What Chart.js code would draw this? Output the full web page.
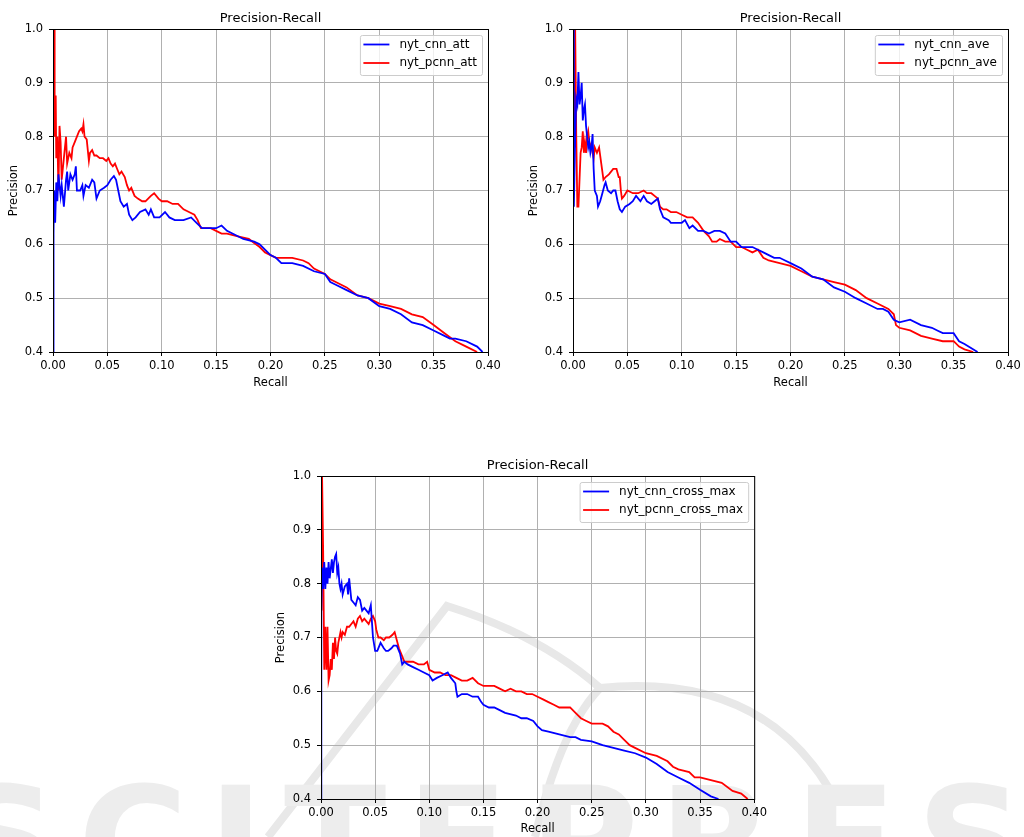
<!DOCTYPE html>
<html>
<head>
<meta charset="utf-8">
<title>Precision-Recall</title>
<script src="https://cdn.jsdelivr.net/npm/chart.js@4.4.0/dist/chart.umd.min.js"></script>
<style>
  html, body { margin: 0; padding: 0; background: #fff; }
  body { width: 1024px; height: 837px; position: relative; overflow: hidden; }
  canvas { position: absolute; }
  .wm { position: absolute; left: -50px; top: 767px; font: bold 150px/150px "DejaVu Sans", sans-serif;
        color: #ededed; letter-spacing: 20px; white-space: nowrap; }
  svg.logo { position: absolute; left: 0; top: 0; }
</style>
</head>
<body>
<!-- faint watermark behind the figure -->
<svg class="logo" width="1024" height="837">
  <path d="M 268 837 L 447 606 Q 540 635 600 688 Q 760 672 830 790" fill="none" stroke="#e8e8e8" stroke-width="8"/>
  <path d="M 600 688 Q 560 730 535 837" fill="none" stroke="#e8e8e8" stroke-width="8"/>
</svg>
<div class="wm">SCITEPRESS</div>

<canvas id="chartAtt" style="left:0px;top:0px" width="512" height="400"></canvas>
<canvas id="chartAve" style="left:512px;top:0px" width="512" height="400"></canvas>
<canvas id="chartCross" style="left:270px;top:440px" width="500" height="397"></canvas>

<script>
// ---- axes / text ----
const recallTicks = [0, 0.05, 0.1, 0.15, 0.2, 0.25, 0.3, 0.35, 0.4];
const precisionTicks = [0.4, 0.5, 0.6, 0.7, 0.8, 0.9, 1.0];
const chartTitle = "Precision-Recall";
const xLabel = "Recall";
const yLabel = "Precision";

const attLabels = ["nyt_cnn_att", "nyt_pcnn_att"];
const aveLabels = ["nyt_cnn_ave", "nyt_pcnn_ave"];
const crossLabels = ["nyt_cnn_cross_max", "nyt_pcnn_cross_max"];

// ---- curves: [recall, precision] ----
const attCnn = [[0.000,0.40],[0.0005,0.62],[0.001,0.70],[0.002,0.64],[0.003,0.715],[0.004,0.68],[0.005,0.73],[0.007,0.69],[0.008,0.71],[0.010,0.67],[0.012,0.72],[0.013,0.735],[0.014,0.70],[0.016,0.73],[0.018,0.72],[0.020,0.73],[0.021,0.745],[0.022,0.70],[0.025,0.70],[0.027,0.71],[0.028,0.69],[0.030,0.71],[0.033,0.705],[0.036,0.72],[0.038,0.715],[0.040,0.685],[0.043,0.70],[0.047,0.705],[0.050,0.71],[0.053,0.72],[0.056,0.727],[0.058,0.72],[0.060,0.70],[0.062,0.68],[0.065,0.67],[0.068,0.675],[0.070,0.655],[0.073,0.645],[0.076,0.65],[0.080,0.66],[0.085,0.665],[0.088,0.655],[0.090,0.665],[0.093,0.65],[0.098,0.65],[0.103,0.66],[0.107,0.65],[0.112,0.645],[0.120,0.645],[0.127,0.65],[0.132,0.64],[0.137,0.63],[0.145,0.63],[0.150,0.63],[0.155,0.635],[0.160,0.625],[0.165,0.62],[0.175,0.61],[0.185,0.605],[0.190,0.60],[0.200,0.58],[0.205,0.575],[0.210,0.565],[0.220,0.565],[0.230,0.56],[0.240,0.55],[0.250,0.545],[0.255,0.53],[0.260,0.525],[0.270,0.515],[0.280,0.505],[0.290,0.50],[0.300,0.485],[0.310,0.48],[0.320,0.47],[0.330,0.455],[0.340,0.45],[0.350,0.44],[0.360,0.43],[0.365,0.425],[0.370,0.425],[0.380,0.42],[0.390,0.41],[0.395,0.40]];

const attPcnn = [[0.001,1.00],[0.0012,0.80],[0.0018,0.875],[0.0025,0.875],[0.003,0.76],[0.004,0.80],[0.005,0.70],[0.006,0.82],[0.007,0.79],[0.008,0.72],[0.010,0.76],[0.012,0.80],[0.013,0.75],[0.015,0.77],[0.017,0.76],[0.018,0.78],[0.020,0.79],[0.022,0.80],[0.024,0.81],[0.026,0.815],[0.027,0.81],[0.028,0.823],[0.029,0.80],[0.031,0.795],[0.032,0.775],[0.033,0.755],[0.034,0.77],[0.036,0.775],[0.038,0.765],[0.040,0.765],[0.043,0.76],[0.046,0.76],[0.049,0.755],[0.051,0.76],[0.053,0.75],[0.055,0.745],[0.057,0.75],[0.059,0.74],[0.061,0.73],[0.063,0.735],[0.066,0.725],[0.068,0.71],[0.070,0.70],[0.072,0.705],[0.075,0.69],[0.078,0.685],[0.082,0.68],[0.085,0.68],[0.090,0.69],[0.093,0.695],[0.097,0.685],[0.100,0.68],[0.105,0.68],[0.110,0.675],[0.115,0.675],[0.120,0.665],[0.125,0.66],[0.130,0.655],[0.133,0.645],[0.136,0.63],[0.140,0.63],[0.145,0.63],[0.150,0.625],[0.155,0.62],[0.160,0.62],[0.170,0.615],[0.180,0.61],[0.190,0.595],[0.195,0.585],[0.200,0.58],[0.205,0.575],[0.210,0.575],[0.220,0.575],[0.230,0.57],[0.235,0.565],[0.240,0.555],[0.250,0.545],[0.255,0.535],[0.260,0.53],[0.270,0.52],[0.280,0.505],[0.290,0.50],[0.300,0.49],[0.310,0.485],[0.320,0.48],[0.330,0.47],[0.340,0.465],[0.350,0.45],[0.360,0.435],[0.370,0.42],[0.380,0.41],[0.390,0.40]];

const aveCnn = [[0.000,1.00],[0.0008,0.67],[0.002,0.80],[0.003,0.87],[0.004,0.86],[0.005,0.92],[0.006,0.86],[0.007,0.875],[0.008,0.90],[0.009,0.83],[0.010,0.85],[0.011,0.86],[0.012,0.82],[0.013,0.80],[0.014,0.78],[0.015,0.79],[0.016,0.77],[0.017,0.78],[0.018,0.805],[0.019,0.74],[0.020,0.70],[0.022,0.69],[0.023,0.67],[0.025,0.68],[0.027,0.695],[0.029,0.71],[0.030,0.715],[0.032,0.70],[0.035,0.695],[0.037,0.70],[0.039,0.70],[0.041,0.68],[0.043,0.665],[0.045,0.66],[0.048,0.67],[0.052,0.675],[0.055,0.68],[0.058,0.69],[0.062,0.68],[0.065,0.69],[0.068,0.68],[0.072,0.675],[0.075,0.68],[0.078,0.685],[0.080,0.665],[0.083,0.65],[0.088,0.645],[0.090,0.64],[0.095,0.64],[0.100,0.64],[0.103,0.645],[0.107,0.63],[0.110,0.635],[0.115,0.625],[0.120,0.625],[0.125,0.62],[0.130,0.625],[0.135,0.625],[0.140,0.62],[0.145,0.605],[0.150,0.605],[0.155,0.595],[0.160,0.595],[0.165,0.595],[0.170,0.59],[0.175,0.585],[0.180,0.58],[0.185,0.575],[0.190,0.575],[0.195,0.57],[0.200,0.565],[0.210,0.555],[0.220,0.54],[0.230,0.535],[0.240,0.52],[0.250,0.512],[0.260,0.50],[0.270,0.49],[0.280,0.48],[0.285,0.48],[0.290,0.475],[0.295,0.46],[0.300,0.455],[0.310,0.46],[0.320,0.45],[0.330,0.445],[0.335,0.44],[0.340,0.435],[0.350,0.435],[0.355,0.42],[0.360,0.415],[0.372,0.40]];

const avePcnn = [[0.0015,0.78],[0.002,1.00],[0.003,0.80],[0.004,0.67],[0.005,0.67],[0.006,0.72],[0.007,0.77],[0.008,0.78],[0.009,0.81],[0.010,0.77],[0.011,0.79],[0.012,0.77],[0.013,0.80],[0.014,0.81],[0.015,0.79],[0.017,0.78],[0.019,0.76],[0.020,0.78],[0.022,0.77],[0.024,0.78],[0.025,0.765],[0.026,0.75],[0.027,0.735],[0.028,0.72],[0.030,0.725],[0.033,0.73],[0.035,0.735],[0.037,0.74],[0.040,0.74],[0.042,0.725],[0.043,0.725],[0.044,0.70],[0.045,0.685],[0.047,0.69],[0.050,0.70],[0.055,0.695],[0.060,0.695],[0.065,0.70],[0.068,0.695],[0.072,0.695],[0.075,0.69],[0.078,0.685],[0.080,0.67],[0.083,0.665],[0.086,0.665],[0.090,0.66],[0.095,0.66],[0.100,0.655],[0.105,0.65],[0.110,0.65],[0.115,0.64],[0.120,0.625],[0.125,0.615],[0.128,0.605],[0.132,0.605],[0.135,0.61],[0.140,0.605],[0.145,0.605],[0.150,0.595],[0.155,0.595],[0.160,0.59],[0.165,0.585],[0.170,0.59],[0.175,0.575],[0.180,0.57],[0.190,0.565],[0.200,0.56],[0.210,0.55],[0.220,0.54],[0.230,0.535],[0.240,0.53],[0.250,0.525],[0.260,0.515],[0.270,0.50],[0.280,0.49],[0.290,0.48],[0.295,0.47],[0.297,0.45],[0.300,0.445],[0.310,0.44],[0.320,0.43],[0.330,0.425],[0.340,0.42],[0.350,0.42],[0.355,0.41],[0.360,0.405],[0.368,0.40]];

const crossCnn = [[0.000,0.40],[0.0003,0.75],[0.001,0.83],[0.002,0.79],[0.003,0.84],[0.004,0.79],[0.005,0.83],[0.006,0.80],[0.007,0.84],[0.008,0.81],[0.010,0.845],[0.011,0.82],[0.012,0.84],[0.013,0.85],[0.014,0.855],[0.015,0.82],[0.016,0.83],[0.017,0.80],[0.018,0.79],[0.019,0.80],[0.020,0.78],[0.022,0.795],[0.024,0.80],[0.025,0.78],[0.026,0.81],[0.027,0.79],[0.028,0.77],[0.030,0.765],[0.032,0.76],[0.034,0.775],[0.036,0.77],[0.038,0.75],[0.040,0.755],[0.042,0.75],[0.044,0.745],[0.046,0.76],[0.047,0.73],[0.048,0.70],[0.050,0.675],[0.052,0.675],[0.055,0.69],[0.058,0.68],[0.060,0.675],[0.062,0.675],[0.065,0.68],[0.067,0.685],[0.070,0.685],[0.073,0.67],[0.075,0.65],[0.077,0.655],[0.080,0.65],[0.085,0.645],[0.090,0.64],[0.095,0.635],[0.100,0.63],[0.103,0.62],[0.107,0.625],[0.112,0.63],[0.117,0.635],[0.120,0.625],[0.124,0.615],[0.125,0.60],[0.126,0.59],[0.130,0.595],[0.135,0.595],[0.140,0.59],[0.145,0.59],[0.148,0.58],[0.150,0.575],[0.155,0.57],[0.160,0.57],[0.165,0.565],[0.170,0.56],[0.180,0.555],[0.185,0.55],[0.190,0.55],[0.196,0.545],[0.200,0.535],[0.204,0.528],[0.210,0.525],[0.220,0.52],[0.230,0.515],[0.235,0.515],[0.240,0.51],[0.250,0.507],[0.260,0.50],[0.270,0.495],[0.280,0.49],[0.290,0.485],[0.300,0.477],[0.310,0.465],[0.320,0.45],[0.330,0.44],[0.340,0.43],[0.350,0.417],[0.360,0.405],[0.367,0.40]];

const crossPcnn = [[0.0005,0.75],[0.001,1.00],[0.002,0.86],[0.003,0.64],[0.004,0.72],[0.005,0.64],[0.006,0.72],[0.007,0.62],[0.008,0.63],[0.009,0.66],[0.010,0.64],[0.011,0.69],[0.012,0.66],[0.013,0.70],[0.014,0.675],[0.015,0.67],[0.016,0.69],[0.017,0.70],[0.018,0.71],[0.019,0.70],[0.020,0.71],[0.022,0.705],[0.024,0.72],[0.026,0.72],[0.028,0.725],[0.030,0.73],[0.032,0.72],[0.034,0.735],[0.036,0.74],[0.038,0.73],[0.040,0.735],[0.042,0.73],[0.044,0.725],[0.046,0.735],[0.048,0.74],[0.050,0.73],[0.051,0.715],[0.053,0.70],[0.055,0.70],[0.058,0.695],[0.060,0.70],[0.063,0.70],[0.066,0.705],[0.068,0.71],[0.070,0.695],[0.072,0.68],[0.075,0.665],[0.077,0.655],[0.080,0.655],[0.085,0.655],[0.090,0.65],[0.095,0.65],[0.098,0.655],[0.100,0.64],[0.105,0.635],[0.110,0.635],[0.115,0.63],[0.120,0.63],[0.125,0.625],[0.130,0.62],[0.135,0.62],[0.140,0.625],[0.145,0.615],[0.150,0.61],[0.155,0.61],[0.160,0.61],[0.165,0.605],[0.170,0.60],[0.175,0.605],[0.180,0.60],[0.185,0.60],[0.190,0.595],[0.195,0.595],[0.200,0.59],[0.205,0.585],[0.210,0.58],[0.215,0.575],[0.220,0.57],[0.230,0.57],[0.235,0.56],[0.240,0.55],[0.245,0.545],[0.250,0.54],[0.260,0.54],[0.265,0.535],[0.270,0.525],[0.275,0.52],[0.280,0.51],[0.285,0.50],[0.290,0.495],[0.300,0.485],[0.310,0.48],[0.320,0.47],[0.325,0.46],[0.330,0.455],[0.340,0.45],[0.345,0.44],[0.350,0.44],[0.360,0.435],[0.370,0.43],[0.380,0.415],[0.388,0.41],[0.394,0.40]];

// ---- frame, title and legend, drawn like matplotlib ----
const FONT = '"DejaVu Sans", sans-serif';

const mplFrame = {
  id: "mplFrame",
  afterDraw(chart) {
    const { ctx, chartArea: a } = chart;
    ctx.save();
    // axes box
    ctx.strokeStyle = "#000";
    ctx.lineWidth = 1;
    ctx.strokeRect(a.left + 0.5, a.top + 0.5, a.right - a.left, a.bottom - a.top);

    // title
    ctx.fillStyle = "#000";
    ctx.font = "13px " + FONT;
    ctx.textAlign = "center";
    ctx.textBaseline = "alphabetic";
    ctx.fillText(chartTitle, (a.left + a.right) / 2, a.top - 7.5);

    // legend, upper right
    const sets = chart.data.datasets;
    ctx.font = "12px " + FONT;
    const textW = Math.max(...sets.map(d => ctx.measureText(d.label).width));
    const w = 39.5 + textW + 5;
    const h = 40;
    const x0 = a.right - 6 - w;
    const y0 = a.top + 6;
    ctx.beginPath();
    ctx.roundRect(x0 + 0.5, y0 + 0.5, w, h, 2);
    ctx.fillStyle = "rgba(255,255,255,0.8)";
    ctx.fill();
    ctx.strokeStyle = "#cccccc";
    ctx.stroke();
    sets.forEach((d, i) => {
      const yy = y0 + 9.5 + i * 18.5;
      ctx.beginPath();
      ctx.moveTo(x0 + 3.5, yy);
      ctx.lineTo(x0 + 29.5, yy);
      ctx.strokeStyle = d.borderColor;
      ctx.lineWidth = 1.8;
      ctx.stroke();
      ctx.fillStyle = "#000";
      ctx.textAlign = "left";
      ctx.textBaseline = "middle";
      ctx.fillText(d.label, x0 + 39.5, yy);
    });
    ctx.restore();
  }
};

function toXY(points) {
  return points.map(([r, p]) => ({ x: r, y: p }));
}

function makeChart(canvasId, labels, bluePts, redPts, box) {
  const tickFont = { family: FONT, size: 11.5 };
  return new Chart(document.getElementById(canvasId), {
    type: "scatter",
    data: {
      datasets: [
        { label: labels[0], data: toXY(bluePts), borderColor: "#0000ff", backgroundColor: "#0000ff",
          showLine: true, pointRadius: 0, borderWidth: 1.8, tension: 0 },
        { label: labels[1], data: toXY(redPts), borderColor: "#ff0000", backgroundColor: "#ff0000",
          showLine: true, pointRadius: 0, borderWidth: 1.8, tension: 0 }
      ]
    },
    options: {
      responsive: false,
      animation: false,
      devicePixelRatio: 1,
      layout: { padding: { left: 0, top: box.top, right: box.right, bottom: 0 } },
      plugins: { legend: { display: false }, title: { display: false }, tooltip: { enabled: false } },
      scales: {
        x: {
          type: "linear", min: 0, max: 0.4,
          afterBuildTicks: s => { s.ticks = recallTicks.map(v => ({ value: v })); },
          afterFit: s => { s.height = box.xHeight; },
          ticks: { font: tickFont, color: "#000", padding: 3, maxRotation: 0, autoSkip: false,
                   callback: v => v.toFixed(2) },
          grid: { color: "#b0b0b0", lineWidth: 1, tickColor: "#000", tickLength: 4 },
          border: { display: false },
          title: { display: true, text: xLabel, color: "#000", font: tickFont,
                   padding: { top: 0, bottom: box.xTitlePad } }
        },
        y: {
          type: "linear", min: 0.4, max: 1.0,
          afterBuildTicks: s => { s.ticks = precisionTicks.map(v => ({ value: v })); },
          afterFit: s => { s.width = box.yWidth; },
          ticks: { font: tickFont, color: "#000", padding: 6, autoSkip: false,
                   callback: v => v.toFixed(1) },
          grid: { color: "#b0b0b0", lineWidth: 1, tickColor: "#000", tickLength: 4 },
          border: { display: false },
          title: { display: true, text: yLabel, color: "#000", font: tickFont,
                   padding: { top: box.yTitlePad, bottom: 0 } }
        }
      }
    },
    plugins: [mplFrame]
  });
}

makeChart("chartAtt", attLabels, attCnn, attPcnn,
  { top: 29, right: 24, yWidth: 53, xHeight: 48, xTitlePad: 10, yTitlePad: 7 });
makeChart("chartAve", aveLabels, aveCnn, avePcnn,
  { top: 29, right: 16, yWidth: 61, xHeight: 48, xTitlePad: 10, yTitlePad: 15 });
makeChart("chartCross", crossLabels, crossCnn, crossPcnn,
  { top: 36, right: 15, yWidth: 51, xHeight: 38, xTitlePad: 1, yTitlePad: 4 });
</script>
</body>
</html>
